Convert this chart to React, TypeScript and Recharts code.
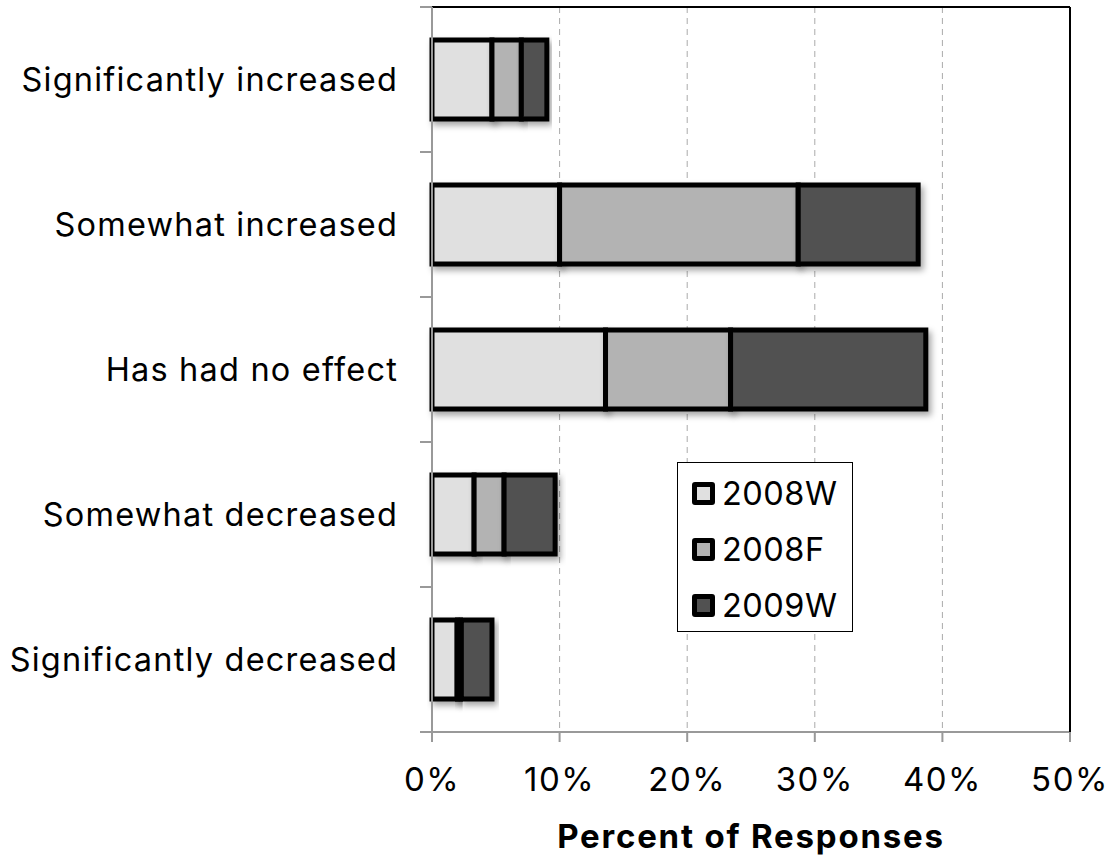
import React from 'react';
import { BarChart, Bar, XAxis, YAxis, CartesianGrid, Legend } from 'recharts';

const categories = [
  'Significantly increased',
  'Somewhat increased',
  'Has had no effect',
  'Somewhat decreased',
  'Significantly decreased',
];
const values2008W = [4.7, 10.0, 13.6, 3.3, 1.95];
const values2008F = [2.3, 18.7, 9.8, 2.35, 0.35];
const values2009W = [2.0, 9.4, 15.3, 4.0, 2.4];
const seriesNames = ['2008W', '2008F', '2009W'];
const xTicks = [0, 10, 20, 30, 40, 50];

const colors = ['#e0e0e0', '#b3b3b3', '#515151'];
const FONT = 'Inter, "Liberation Sans", Arial, sans-serif';

const W = 1114;
const H = 858;
const margin = { top: 6, right: 43, bottom: 0, left: 0 };
const Y_AXIS_W = 432;
const X_AXIS_H = 126;
const band = (H - margin.top - 1 - margin.bottom - X_AXIS_H) / categories.length;

const data = categories.map((name, i) => ({
  name,
  w2008: values2008W[i],
  f2008: values2008F[i],
  w2009: values2009W[i],
}));

const CategoryTick = (props: any) => {
  const { x, y, payload, index } = props;
  const axisX = x + 35;
  return (
    <g>
      <line x1={axisX - 12} x2={axisX} y1={y - band / 2} y2={y - band / 2} stroke="#999" strokeWidth={2} />
      {index === categories.length - 1 && (
        <line x1={axisX - 12} x2={axisX} y1={y + band / 2} y2={y + band / 2} stroke="#999" strokeWidth={2} />
      )}
      <text
        x={x + 1}
        y={y}
        dy="0.35em"
        textAnchor="end"
        fill="#000"
        fontSize={32.5}
        letterSpacing={1.2}
        fontFamily={FONT}
      >
        {payload.value}
      </text>
    </g>
  );
};

const renderLegend = () => (
  <div
    style={{
      boxSizing: 'border-box',
      width: 176,
      height: 170,
      border: '1.5px solid #000',
      background: '#fff',
      paddingTop: 2,
      paddingLeft: 14,
      fontFamily: FONT,
    }}
  >
    {seriesNames.map((s, i) => (
      <div key={s} style={{ display: 'flex', alignItems: 'center', height: 56 }}>
        <span
          style={{
            display: 'inline-block',
            boxSizing: 'border-box',
            width: 23,
            height: 23,
            border: '5px solid #000',
            borderRadius: 3,
            background: colors[i],
            marginRight: 7,
          }}
        />
        <span style={{ fontSize: 32.5, letterSpacing: 0.5, color: '#000' }}>{s}</span>
      </div>
    ))}
  </div>
);

export default function App() {
  return (
    <div style={{ position: 'absolute', left: 0, top: 0, width: W, height: H, background: '#fff' }}>
      <svg width={0} height={0} style={{ position: 'absolute' }}>
        <defs>
          <filter id="barShadow" x="-20%" y="-20%" width="140%" height="150%">
            <feDropShadow dx={3} dy={4} stdDeviation={3} floodColor="#000" floodOpacity={0.35} />
          </filter>
        </defs>
      </svg>
      <BarChart width={W} height={H} data={data} layout="vertical" margin={margin} barSize={79}>
        <CartesianGrid horizontal={false} strokeDasharray="6 5" stroke="#aaa" />
        <XAxis
          type="number"
          domain={[0, 50]}
          ticks={xTicks}
          tickFormatter={(v: number) => `${v}%`}
          height={X_AXIS_H}
          tickSize={10}
          tickMargin={26}
          tickLine={{ stroke: '#999', strokeWidth: 2 }}
          axisLine={{ stroke: '#999', strokeWidth: 2 }}
          tick={{ fill: '#000', fontSize: 33, letterSpacing: 1.5, fontFamily: FONT }}
          label={{
            value: 'Percent of Responses',
            position: 'insideBottom',
            offset: 10,
            fill: '#000',
            fontSize: 33,
            fontWeight: 'bold',
            letterSpacing: 1.8,
            fontFamily: FONT,
          }}
        />
        <XAxis
          xAxisId="top"
          orientation="top"
          type="number"
          domain={[0, 50]}
          height={1}
          tick={false}
          tickLine={false}
          axisLine={{ stroke: '#000', strokeWidth: 2 }}
        />
        <YAxis
          type="category"
          dataKey="name"
          width={Y_AXIS_W}
          tickSize={0}
          tickMargin={35}
          tickLine={false}
          axisLine={{ stroke: '#999', strokeWidth: 2 }}
          tick={<CategoryTick />}
          interval={0}
        />
        <YAxis
          yAxisId="right"
          orientation="right"
          type="category"
          dataKey="name"
          width={1}
          tick={false}
          tickLine={false}
          axisLine={{ stroke: '#000', strokeWidth: 2 }}
        />
        <Legend
          layout="vertical"
          align="center"
          verticalAlign="middle"
          width={176}
          height={170}
          wrapperStyle={{ left: 677, top: 462 }}
          content={renderLegend}
        />
        <Bar dataKey="w2008" name={seriesNames[0]} stackId="a" fill={colors[0]} stroke="#000" strokeWidth={5} filter="url(#barShadow)" isAnimationActive={false} />
        <Bar dataKey="f2008" name={seriesNames[1]} stackId="a" fill={colors[1]} stroke="#000" strokeWidth={5} filter="url(#barShadow)" isAnimationActive={false} />
        <Bar dataKey="w2009" name={seriesNames[2]} stackId="a" fill={colors[2]} stroke="#000" strokeWidth={5} filter="url(#barShadow)" isAnimationActive={false} />
      </BarChart>
    </div>
  );
}
